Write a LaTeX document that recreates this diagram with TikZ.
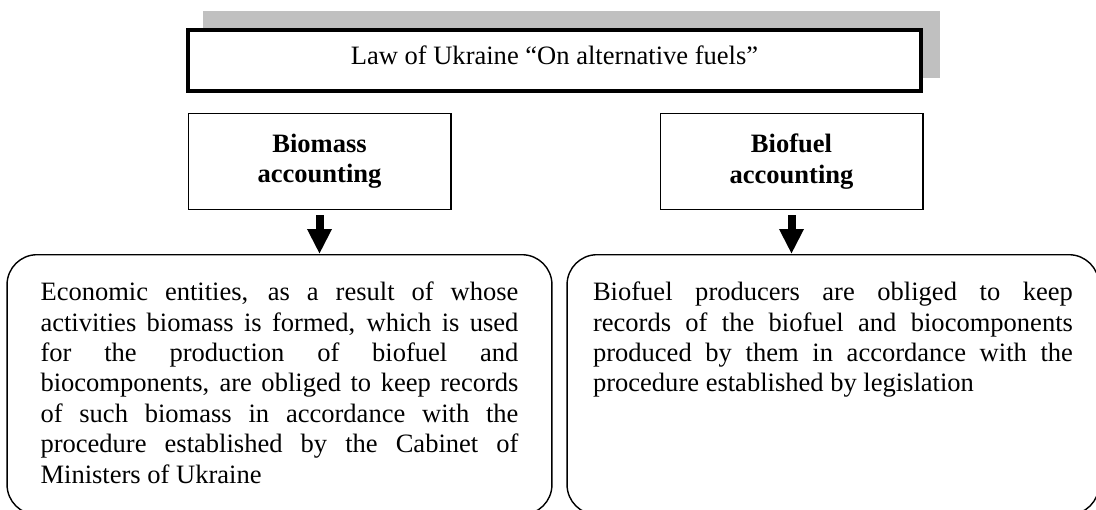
\documentclass[tikz,border=0pt]{standalone}
\usepackage{fontspec}
\setmainfont{Liberation Serif}
\usepackage{xcolor}
\usepackage{tikz}
\usetikzlibrary{arrows.meta,positioning}
\definecolor{shadowgray}{RGB}{192,192,192}
\tolerance=10000
\hbadness=10000

\begin{document}
\begin{tikzpicture}[
x=0.02cm,y=-0.02cm,
every node/.style={font=\fontsize{15.1pt}{17.3pt}\selectfont},
shadowbar/.style={fill=shadowgray,minimum width=14.74cm,minimum height=1.34cm},
lawbox/.style={draw,line width=0.08cm,fill=white,minimum width=14.66cm,minimum height=1.22cm,text height=0.28cm,text depth=0.1cm},
headbox/.style={draw,line width=0.6pt,minimum width=5.26cm,minimum height=1.92cm,align=center,font=\fontsize{15.1pt}{17.3pt}\selectfont\bfseries},
textbox/.style={draw,line width=0.8pt,rounded corners=0.6cm,inner sep=0pt,text height=0.92cm,text depth=4.28cm,align=justify},
arrow/.style={-{Triangle[length=0.5cm,width=0.46cm]},line width=0.16cm,shorten <=0.1cm}
]
\useasboundingbox (0,0) rectangle (1096,510);
\clip (0,0) rectangle (1096,510);

\node[shadowbar] (lawshadow) at (571.5,44.5) {};
\node[lawbox] (law) at (554.5,60.5) {Law of Ukraine “On alternative fuels”};

\node[headbox] (bmass) at (319.5,161.5) {Biomass\\accounting};
\node[headbox] (bfuel) at (791.5,161.5) {Biofuel\\accounting};

\node[textbox,minimum width=10.9cm,text width=9.56cm] (recbm) at (279.5,254) [anchor=north] {Economic entities, as a result of whose\linebreak activities biomass is formed, which is used\linebreak for the production of biofuel and\linebreak biocomponents, are obliged to keep records\linebreak of such biomass in accordance with the\linebreak procedure established by the Cabinet of\linebreak Ministers of Ukraine};
\node[textbox,minimum width=10.64cm,text width=9.6cm] (recbf) at (833,254) [anchor=north] {Biofuel producers are obliged to keep\linebreak records of the biofuel and biocomponents\linebreak produced by them in accordance with the\linebreak procedure established by legislation};

\draw[arrow] (bmass.south) -- (bmass.south |- recbm.north);
\draw[arrow] (bfuel.south) -- (bfuel.south |- recbf.north);
\end{tikzpicture}
\end{document}
